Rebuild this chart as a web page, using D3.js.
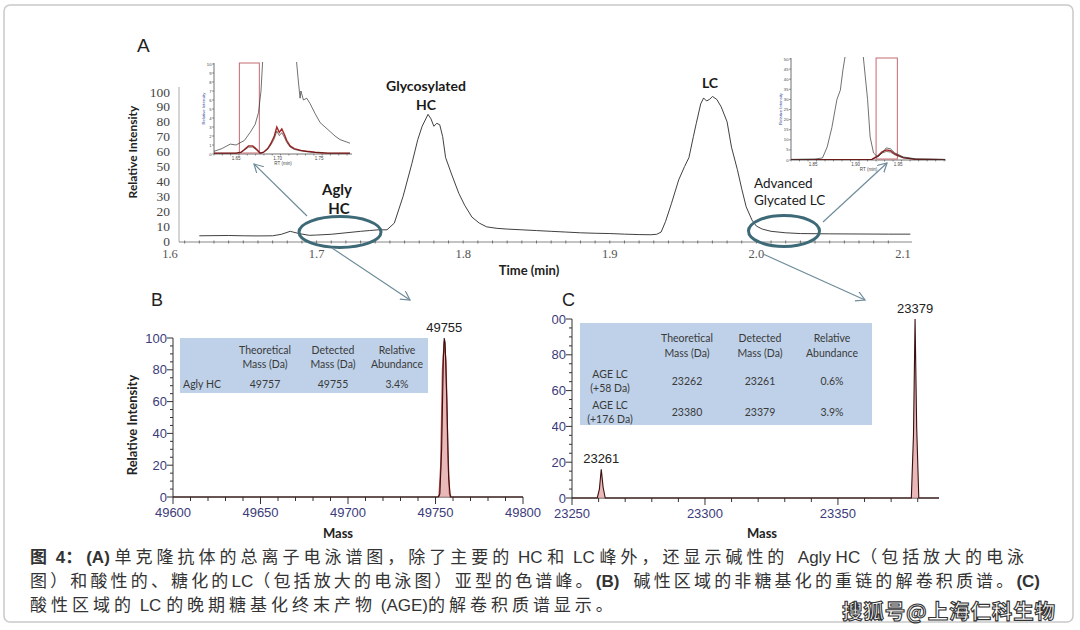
<!DOCTYPE html>
<html><head><meta charset="utf-8">
<script src="https://cdn.jsdelivr.net/npm/d3@7"></script>
<style>body{margin:0;background:#fff}svg{display:block}</style>
</head><body>
<svg id="c" width="1080" height="630"></svg>
<script>
// ---------------- DATA ----------------
// Panel A: total ion chromatogram
const mainTime = [1.620,1.630,1.640,1.650,1.660,1.670,1.676,1.682,1.688,1.695,1.700,1.710,1.720,1.730,1.736,1.742,1.748,1.753,1.759,1.765,1.769,1.772,1.776,1.778,1.780,1.782,1.784,1.786,1.788,1.792,1.797,1.801,1.806,1.811,1.816,1.823,1.830,1.840,1.850,1.860,1.870,1.880,1.890,1.900,1.910,1.920,1.928,1.932,1.935,1.938,1.942,1.947,1.951,1.954,1.957,1.959,1.962,1.964,1.966,1.968,1.970,1.973,1.976,1.980,1.983,1.987,1.990,1.993,1.997,2.000,2.004,2.010,2.020,2.030,2.050,2.070,2.090,2.105];
const mainIntensity = [3.5,3.6,3.7,3.5,3.4,3.5,4.5,6.5,5.0,3.8,4.0,4.5,5.5,6.5,7.0,7.5,7.5,12,30,52,68,77,85,82,77,79,78,70,56,45,32,24,16,12,9.5,8.5,8,7.5,7,6.5,6,5.5,5.2,5,4.6,4.3,4.2,4.5,6,13,25,41,50,56,70,79,92,96,94,95,97,95,90,80,63,48,35,23,14,10,8,6.5,5.5,5,4.8,4.7,4.6,4.6];
const mainYTicks = [0,10,20,30,40,50,60,70,80,90,100];
const mainXTicks = [1.6,1.7,1.8,1.9,2.0,2.1];
const peakNames = [["Glycosylated","HC"],["LC"],["Agly","HC"],["Advanced","Glycated LC"]];

// Inset (left) : zoomed chromatogram near Agly HC
const insetLTime = [1.6235,1.633,1.643,1.650,1.660,1.667,1.673,1.677,1.680,1.683,1.690,1.700,1.710,1.718,1.722,1.725,1.727,1.728,1.731,1.735,1.739,1.745,1.751,1.757,1.763,1.769,1.775,1.781,1.787];
const insetLBlack = [0.3,0.6,1.1,1.0,1.5,2.4,3.3,4.6,7,12,30,45,30,14,11,8,6.2,7,6,6.2,5.6,4.5,3.5,3.0,2.5,2.0,1.6,1.4,1.2];
const insetLRedTime = [1.6235,1.650,1.656,1.660,1.665,1.670,1.675,1.679,1.683,1.688,1.692,1.696,1.699,1.702,1.705,1.708,1.711,1.715,1.720,1.728,1.735,1.745,1.760,1.787];
const insetLRed = [0.1,0.1,0.2,0.5,0.9,0.9,0.5,0.1,0.2,0.6,1.2,2.0,3.0,2.4,2.8,2.2,1.5,0.9,0.6,0.4,0.3,0.2,0.1,0.1];
const insetLXTicks = [1.65,1.70,1.75];
const insetLWindow = [1.654,1.678];

// Inset (right) : zoomed chromatogram near advanced glycated LC
const insetRTime = [1.824,1.852,1.861,1.8665,1.872,1.878,1.882,1.885,1.889,1.8935,1.900,1.905,1.909,1.914,1.917,1.921,1.926,1.931,1.936,1.941,1.946,1.956,1.970,2.005];
const insetRBlack = [0.3,0.5,1,6.4,16,30,34.6,44.5,55,80,95,70,51,30,11.4,3.5,1.5,3.5,6,5.5,3.5,1.5,0.6,0.3];
const insetRRedTime = [1.824,1.915,1.919,1.926,1.931,1.936,1.941,1.946,1.956,1.970,2.005];
const insetRRed = [0.2,0.2,0.3,2,4,5,4.6,3,1.2,0.4,0.2];
const insetRXTicks = [1.85,1.90,1.95];
const insetRWindow = [1.924,1.949];

// Panel B: deconvoluted mass spectrum, Agly HC
const bMass = [49600,49751.5,49752.5,49753.5,49754.5,49755,49755.5,49756.5,49757.5,49758.5,49800];
const bIntensity = [0,0,2,30,88,100,97,60,12,0,0];
const bRedMass = [49752,49753,49754,49755,49756,49757,49758,49759];
const bRedIntensity = [0,20,80,98,85,30,2,0];
const bXTicks = [49600,49650,49700,49750,49800];
const bYTicks = [0,20,40,60,80,100];
const bPeakLabels = [[49755,100,"49755"]];
const tableCols = ["Theoretical\nMass (Da)","Detected\nMass (Da)","Relative\nAbundance"];
const tableBRows = [["Agly HC","49757","49755","3.4%"]];

// Panel C: deconvoluted mass spectrum, AGE LC
const cMass = [23250,23259.5,23260.3,23261,23261.7,23262.5,23377.6,23378.4,23379,23379.6,23380.4,23388];
const cIntensity = [0,0,5,16,6,0,0,35,100,40,0,0];
const cXTicks = [23250,23300,23350];
const cYTicks = [0,20,40,60,80,100];
const cPeakLabels = [[23261,16,"23261"],[23379,100,"23379"]];
const tableCRows = [["AGE LC\n(+58 Da)","23262","23261","0.6%"],["AGE LC\n(+176 Da)","23380","23379","3.9%"]];

// Caption
const captionLines = [
  [["图 4：",true],["(A)",true],[" 单克隆抗体的总离子电泳谱图，除了主要的 HC 和 LC 峰外，还显示碱性的  Agly HC（包括放大的电泳",false]],
  [["图）和酸性的、糖化的LC（包括放大的电泳图）亚型的色谱峰。",false],["(B)",true],["   碱性区域的非糖基化的重链的解卷积质谱。",false],["(C)",true]],
  [["酸性区域的 LC 的晚期糖基化终末产物 (AGE)的解卷积质谱显示。",false]]
];
const watermark = "搜狐号@上海仁科生物";

// ---------------- DRAW ----------------
const svg = d3.select("#c");
const defs = svg.append("defs");
const CJK = "'Noto Sans CJK SC', sans-serif";
const LATO = "Lato, 'Open Sans', sans-serif";
const NARROW = "'Liberation Sans Narrow', 'Liberation Sans', Arial, sans-serif";
const SERIF = "'Liberation Serif', 'DejaVu Serif', serif";
const ARIAL = "'Liberation Sans', Arial, sans-serif";

svg.append("rect").attr("x",4).attr("y",5).attr("width",1069).attr("height",617).attr("rx",6)
  .attr("fill","#fff").attr("stroke","#c9c9c9").attr("stroke-width",1.5);

defs.append("marker").attr("id","arr").attr("markerUnits","userSpaceOnUse")
  .attr("markerWidth",14).attr("markerHeight",14).attr("refX",9).attr("refY",5).attr("orient","auto")
  .append("path").attr("d","M0,0 L9,5 L0,10").attr("fill","none").attr("stroke","#6f8c9a").attr("stroke-width",1.2);

// ===== Panel A =====
const xA = d3.scaleLinear().domain([1.6,2.1]).range([170,903]);
const yA = d3.scaleLinear().domain([0,100]).range([241,92]);
svg.append("text").text("A").attr("x",137).attr("y",52).attr("font-family",ARIAL).attr("font-size",19).attr("fill","#222");
svg.append("line").attr("x1",179).attr("x2",179).attr("y1",87).attr("y2",242).attr("stroke","#aaa").attr("stroke-width",1);
const gAx = svg.append("g").attr("transform","translate(0,242)");
gAx.append("line").attr("x1",179).attr("x2",912).attr("stroke","#888").attr("stroke-width",1);
const minorA = d3.range(1.61,2.1,0.01);
gAx.selectAll(".mt").data(minorA).join("line").attr("x1",d=>xA(d)).attr("x2",d=>xA(d)).attr("y1",-1.5).attr("y2",1.5).attr("stroke","#555").attr("stroke-width",0.8);
gAx.selectAll(".lab").data(mainXTicks).join("text").attr("x",d=>xA(d)).attr("y",16).attr("text-anchor","middle")
  .attr("font-family",SERIF).attr("font-size",12.5).attr("fill","#555").text(d=>d.toFixed(1));
svg.selectAll(".ya").data(mainYTicks).join("text").attr("x",170).attr("y",d=>yA(d)+4.5).attr("text-anchor","end")
  .attr("font-family",SERIF).attr("font-size",13.5).attr("fill","#444").text(d=>d);
svg.append("text").text("Relative Intensity").attr("transform","translate(137,152) rotate(-90)").attr("text-anchor","middle")
  .attr("font-family",LATO).attr("font-weight","bold").attr("font-size",12).attr("fill","#222");
svg.append("text").text("Time (min)").attr("x",529).attr("y",275).attr("text-anchor","middle")
  .attr("font-family",LATO).attr("font-weight","bold").attr("font-size",13).attr("fill","#222");
const mainData = mainTime.map((t,i)=>[t,mainIntensity[i]]);
svg.append("path").datum(mainData).attr("d",d3.line().x(d=>xA(d[0])).y(d=>yA(d[1])))
  .attr("fill","none").attr("stroke","#2a2a2a").attr("stroke-width",0.9);

const ann = svg.append("g").attr("font-family",LATO).attr("fill","#1a1a1a").attr("text-anchor","middle");
ann.append("text").text(peakNames[0][0]).attr("x",426).attr("y",91).attr("font-weight","bold").attr("font-size",14);
ann.append("text").text(peakNames[0][1]).attr("x",426).attr("y",110).attr("font-weight","bold").attr("font-size",14);
ann.append("text").text(peakNames[1][0]).attr("x",710).attr("y",88).attr("font-weight","bold").attr("font-size",14);
ann.append("text").text(peakNames[2][0]).attr("x",337).attr("y",195).attr("font-weight","bold").attr("font-size",15);
ann.append("text").text(peakNames[2][1]).attr("x",339).attr("y",214).attr("font-weight","bold").attr("font-size",15);
ann.append("text").text(peakNames[3][0]).attr("x",754).attr("y",188).attr("text-anchor","start").attr("font-size",13.5);
ann.append("text").text(peakNames[3][1]).attr("x",754).attr("y",205).attr("text-anchor","start").attr("font-size",13.5);

svg.append("ellipse").attr("cx",340).attr("cy",232).attr("rx",41).attr("ry",15.5).attr("fill","none").attr("stroke","#3e6a78").attr("stroke-width",3);
svg.append("ellipse").attr("cx",784).attr("cy",231).attr("rx",35.5).attr("ry",15.5).attr("fill","none").attr("stroke","#3e6a78").attr("stroke-width",3);

const arrows = [[307,216,254,164],[332,248,410,300],[823,222,887,163],[763,254,865,300]];
svg.selectAll(".arrow").data(arrows).join("line").attr("x1",d=>d[0]).attr("y1",d=>d[1]).attr("x2",d=>d[2]).attr("y2",d=>d[3])
  .attr("stroke","#6f8c9a").attr("stroke-width",1.2).attr("marker-end","url(#arr)");

// ===== Insets =====
function inset(id, xs, ys, x0, x1, y0, y1, blackT, blackV, redT, redV, xticks, yticks, win) {
  const g = svg.append("g");
  defs.append("clipPath").attr("id",id).append("rect").attr("x",x0).attr("y",y1-1).attr("width",x1-x0+2).attr("height",y0-y1+1);
  g.append("line").attr("x1",x0).attr("x2",x0).attr("y1",y1).attr("y2",y0).attr("stroke","#333").attr("stroke-width",0.7);
  g.append("line").attr("x1",x0).attr("x2",x1).attr("y1",y0).attr("y2",y0).attr("stroke","#333").attr("stroke-width",0.7);
  g.selectAll(".yt").data(yticks).join("line").attr("x1",x0-2).attr("x2",x0).attr("y1",d=>ys(d)).attr("y2",d=>ys(d)).attr("stroke","#333").attr("stroke-width",0.5);
  g.selectAll(".ytl").data(yticks).join("text").attr("x",x0-2.5).attr("y",d=>ys(d)+1.5).attr("text-anchor","end")
    .attr("font-size",4.2).attr("font-family","Arial").attr("fill","#444").text(d=>d);
  const minor = d3.range(xs.domain()[0],xs.domain()[1],0.01);
  g.selectAll(".xt").data(minor).join("line").attr("x1",d=>xs(d)).attr("x2",d=>xs(d)).attr("y1",y0).attr("y2",y0+1.5).attr("stroke","#333").attr("stroke-width",0.5);
  g.selectAll(".xtl").data(xticks).join("text").attr("x",d=>xs(d)).attr("y",y0+6).attr("text-anchor","middle")
    .attr("font-size",4.5).attr("font-family","Arial").attr("fill","#444").text(d=>d.toFixed(2));
  g.append("text").text("RT (min)").attr("x",(x0+x1)/2).attr("y",y0+11).attr("text-anchor","middle").attr("font-size",4.5).attr("font-family","Arial").attr("fill","#444");
  g.append("text").text("Relative Intensity").attr("transform",`translate(${x0-9},${(y0+y1)/2}) rotate(-90)`).attr("text-anchor","middle")
    .attr("font-size",4.2).attr("font-family","Arial").attr("fill","#3a4a9a");
  g.append("rect").attr("x",xs(win[0])).attr("y",y1).attr("width",xs(win[1])-xs(win[0])).attr("height",y0-y1-1)
    .attr("fill","none").attr("stroke","#c46a72").attr("stroke-width",1);
  const pl = g.append("g").attr("clip-path",`url(#${id})`);
  const ln = d3.line().x(d=>xs(d[0])).y(d=>ys(d[1]));
  pl.append("path").datum(redT.map((t,i)=>[t,redV[i]])).attr("d",ln).attr("fill","none").attr("stroke","#a02828").attr("stroke-width",1.4);
  pl.append("path").datum(redT.map((t,i)=>[t,redV[i]*0.85])).attr("d",ln).attr("fill","none").attr("stroke","#3a0e0e").attr("stroke-width",0.6);
  pl.append("path").datum(blackT.map((t,i)=>[t,blackV[i]])).attr("d",ln).attr("fill","none").attr("stroke","#333").attr("stroke-width",0.7);
}
const xIL = d3.scaleLinear().domain([1.6235,1.787]).range([214,350]);
const yIL = d3.scaleLinear().domain([0,10]).range([154,64]);
inset("clipL", xIL, yIL, 214, 352, 154, 63, insetLTime, insetLBlack, insetLRedTime, insetLRed, insetLXTicks, d3.range(0,11,1), insetLWindow);
const xIR = d3.scaleLinear().domain([1.824,2.005]).range([791,945]);
const yIR = d3.scaleLinear().domain([0,50]).range([160,59]);
inset("clipR", xIR, yIR, 791, 946, 160, 58, insetRTime, insetRBlack, insetRRedTime, insetRRed, insetRXTicks, d3.range(0,51,5), insetRWindow);

// ===== Spectra panels =====
function spectrum(opt) {
  const {x, y, xticks, yticks, minorX, minorY, mass, inten, redMass, redInten, labels, clipX} = opt;
  const g = svg.append("g");
  if (clipX !== undefined) {
    defs.append("clipPath").attr("id","clipC").append("rect").attr("x",clipX).attr("y",280).attr("width",500).attr("height",280);
    g.attr("clip-path","url(#clipC)");
  }
  const x0 = x.range()[0], y0 = y.range()[0];
  const col = "#333";
  g.append("line").attr("x1",x0).attr("x2",x0).attr("y1",y.range()[1]).attr("y2",y0).attr("stroke",col).attr("stroke-width",1);
  g.append("line").attr("x1",x0).attr("x2",x.range()[1]).attr("y1",y0).attr("y2",y0).attr("stroke",col).attr("stroke-width",1);
  g.selectAll(".ym").data(minorY).join("line").attr("x1",x0-3).attr("x2",x0).attr("y1",d=>y(d)).attr("y2",d=>y(d)).attr("stroke",col);
  g.selectAll(".yM").data(yticks).join("line").attr("x1",x0-6).attr("x2",x0).attr("y1",d=>y(d)).attr("y2",d=>y(d)).attr("stroke",col);
  g.selectAll(".xm").data(minorX).join("line").attr("x1",d=>x(d)).attr("x2",d=>x(d)).attr("y1",y0).attr("y2",y0+4).attr("stroke",col);
  g.selectAll(".xM").data(xticks).join("line").attr("x1",d=>x(d)).attr("x2",d=>x(d)).attr("y1",y0).attr("y2",y0+7).attr("stroke",col);
  g.selectAll(".ytl").data(yticks).join("text").attr("x",x0-6).attr("y",d=>y(d)+4.5).attr("text-anchor","end")
    .attr("font-family",NARROW).attr("font-size",13).attr("fill","#3b3b7a").text(d=>d);
  g.selectAll(".xtl").data(xticks).join("text").attr("x",d=>x(d)).attr("y",y0+20).attr("text-anchor","middle")
    .attr("font-family",NARROW).attr("font-size",13).attr("fill","#3b3b7a").text(d=>d);
  const data = mass.map((m,i)=>[m,inten[i]]);
  g.append("path").datum(data).attr("d",d3.area().x(d=>x(d[0])).y0(y0).y1(d=>y(d[1]))).attr("fill","#e09a9a").attr("opacity",0.7);
  if (redMass) g.append("path").datum(redMass.map((m,i)=>[m,redInten[i]])).attr("d",d3.line().x(d=>x(d[0])).y(d=>y(d[1])))
    .attr("fill","none").attr("stroke","#c0504d").attr("stroke-width",1.4);
  g.append("path").datum(data).attr("d",d3.line().x(d=>x(d[0])).y(d=>y(d[1]))).attr("fill","none").attr("stroke","#3a1010").attr("stroke-width",1.1);
  g.selectAll(".pl").data(labels).join("text").attr("x",d=>x(d[0])).attr("y",d=>y(d[1])-6).attr("text-anchor","middle")
    .attr("font-family",NARROW).attr("font-size",13).attr("fill","#222").text(d=>d[2]);
}
function table(x0, y0, w, h, colX, headY, rows, rowY, labelX) {
  const g = svg.append("g").attr("font-family",LATO).attr("font-size",10.5).attr("fill","#3a3a3a").attr("text-anchor","middle");
  g.append("rect").attr("x",x0).attr("y",y0).attr("width",w).attr("height",h).attr("fill","#bed1e8");
  tableCols.forEach((c,i)=>{ c.split("\n").forEach((s,j)=>g.append("text").attr("x",colX[i]).attr("y",headY[j]).text(s)); });
  rows.forEach((r,ri)=>{
    const lbl = r[0].split("\n");
    if (lbl.length===1) g.append("text").attr("x",labelX).attr("y",rowY[ri]).text(lbl[0]);
    else lbl.forEach((s,j)=>g.append("text").attr("x",labelX).attr("y",rowY[ri]-7+j*14).text(s));
    r.slice(1).forEach((v,ci)=>g.append("text").attr("x",colX[ci]).attr("y",rowY[ri]).text(v));
  });
}
svg.append("text").text("B").attr("x",151).attr("y",306).attr("font-family",ARIAL).attr("font-size",18).attr("fill","#222");
const xB = d3.scaleLinear().domain([49600,49800]).range([173,523]);
const yB = d3.scaleLinear().domain([0,100]).range([497,338]);
spectrum({x:xB,y:yB,xticks:bXTicks,yticks:bYTicks,minorX:d3.range(49610,49800,10).filter(d=>d%50),minorY:d3.range(5,100,5).filter(d=>d%20),
  mass:bMass,inten:bIntensity,redMass:bRedMass,redInten:bRedIntensity,labels:bPeakLabels});
table(180,338,248,55,[265,333,397],[354,368],tableBRows,[388],202);
svg.append("text").text("Relative Intensity").attr("transform","translate(137,425) rotate(-90)").attr("text-anchor","middle")
  .attr("font-family",LATO).attr("font-weight","bold").attr("font-size",13).attr("fill","#222");
svg.append("text").text("Mass").attr("x",338).attr("y",538).attr("text-anchor","middle").attr("font-family",LATO).attr("font-weight","bold").attr("font-size",13).attr("fill","#222");

svg.append("text").text("C").attr("x",562).attr("y",306).attr("font-family",ARIAL).attr("font-size",18).attr("fill","#222");
const xC = d3.scaleLinear().domain([23250,23388]).range([572,939]);
const yC = d3.scaleLinear().domain([0,100]).range([498,319]);
spectrum({x:xC,y:yC,xticks:cXTicks,yticks:cYTicks,minorX:d3.range(23260,23388,10).filter(d=>d%50),minorY:d3.range(5,100,5).filter(d=>d%20),
  mass:cMass,inten:cIntensity,labels:cPeakLabels,clipX:552});
table(580,323,292,102,[687,760,832],[342,357],tableCRows,[385,416],610);
svg.append("text").text("Mass").attr("x",762).attr("y",538).attr("text-anchor","middle").attr("font-family",LATO).attr("font-weight","bold").attr("font-size",13).attr("fill","#222");

// ===== Caption =====
const isCJK = ch => /[\u3000-\u9fff\uff00-\uffef]/.test(ch);
function runs(str) {
  const out = []; let cur = "", curC = null;
  for (const ch of str) { const c = isCJK(ch); if (curC === null || c === curC) { cur += ch; curC = c; } else { out.push([cur,curC]); cur = ch; curC = c; } }
  if (cur) out.push([cur,curC]);
  return out;
}
const capY = [563,587,611];
const capTarget = [998, 1010, null];
let lsRef = 2;
captionLines.forEach((segs,i)=>{
  const t = svg.append("text").attr("x",30).attr("y",capY[i]).attr("fill","#333").attr("font-size",17).attr("xml:space","preserve");
  let nC = 0;
  const cj = [];
  segs.forEach(s=>{
    runs(s[0]).forEach(([txt,c])=>{
      const sp = t.append("tspan").text(txt).attr("font-weight",s[1]?"bold":"normal").attr("font-family",c?CJK:ARIAL);
      if (c) { nC += [...txt].length; cj.push(sp); }
    });
  });
  const w = t.node().getComputedTextLength();
  let ls = lsRef;
  if (capTarget[i]) { ls = Math.max(0,(capTarget[i]-w)/nC); if (i===0) lsRef = ls; }
  cj.forEach(sp=>sp.attr("letter-spacing",ls));
});
svg.append("text").text(watermark).attr("x",842).attr("y",619).attr("font-family",CJK).attr("font-size",20.5).attr("font-weight","bold")
  .attr("fill","#fff").attr("stroke","#333").attr("stroke-width",1.1).attr("textLength",213);
</script>
</body></html>
